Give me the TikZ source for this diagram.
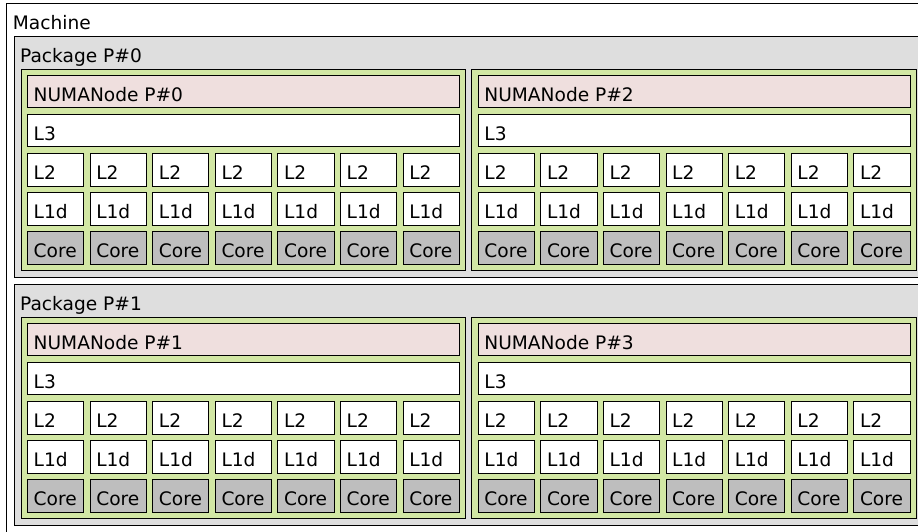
\documentclass[tikz,border=0pt]{standalone}
\usepackage{fontspec}
\setmainfont{DejaVu Sans}

\definecolor{pkggray}{HTML}{DEDEDE}
\definecolor{groupgreen}{HTML}{D2E7A4}
\definecolor{numapink}{HTML}{EFDFDE}
\definecolor{coregray}{HTML}{BEBEBE}

\tikzset{
  hwbox/.style={draw, line width=0.9pt, anchor=north west, inner sep=0pt, outer sep=0pt},
  machinebox/.style={hwbox, fill=white},
  packagebox/.style={hwbox, fill=pkggray},
  groupbox/.style={hwbox, fill=groupgreen},
  numabox/.style={hwbox, fill=numapink},
  cachebox/.style={hwbox, fill=white},
  corebox/.style={hwbox, fill=coregray},
  boxtext/.style={anchor=base west, inner sep=0pt, font=\fontsize{18.6}{22}\selectfont}
}

% name, x, y, width, height, style, text
\newcommand{\hwbox}[7]{%
  \node[#6, minimum width=#4pt, minimum height=#5pt] (#1) at (#2,#3) {};
  \node[boxtext] (#1-t) at ({#2+6},{#3+26}) {#7};}

\begin{document}
\begin{tikzpicture}[x=1pt, y=-1pt]
    \useasboundingbox (0,0) rectangle (918,531);
    \clip (0,0) rectangle (918,531);

    \hwbox{machine}{6.7}{3.3}{924}{530}{machinebox}{Machine}

    \foreach \p in {0,1} {
      \pgfmathsetmacro{\py}{248*\p}
      \hwbox{pkg\p}{14}{36+\py}{910}{241}{packagebox}{Package P\#\p}
      \foreach \g in {0,1} {
        \pgfmathsetmacro{\gx}{21+450.7*\g}
        \pgfmathtruncatemacro{\num}{\p+2*\g}
        \hwbox{grp\p\g}{\gx}{69+\py}{444.7}{201.4}{groupbox}{}
        \hwbox{numa\p\g}{\gx+6.5}{75+\py}{431.8}{32.6}{numabox}{NUMANode P\#\num}
        \hwbox{lthree\p\g}{\gx+6.5}{114.2+\py}{431.8}{32.6}{cachebox}{L3}
        \foreach \c in {0,...,6} {
          \pgfmathsetmacro{\cx}{\gx+6.5+62.6*\c}
          \hwbox{ltwo\p\g\c}{\cx}{153.4+\py}{56.2}{32.6}{cachebox}{L2}
          \hwbox{lone\p\g\c}{\cx}{192.6+\py}{56.2}{32.6}{cachebox}{L1d}
          \hwbox{core\p\g\c}{\cx}{231.8+\py}{56.2}{32.6}{corebox}{Core}
        }
      }
    }
\end{tikzpicture}
\end{document}
